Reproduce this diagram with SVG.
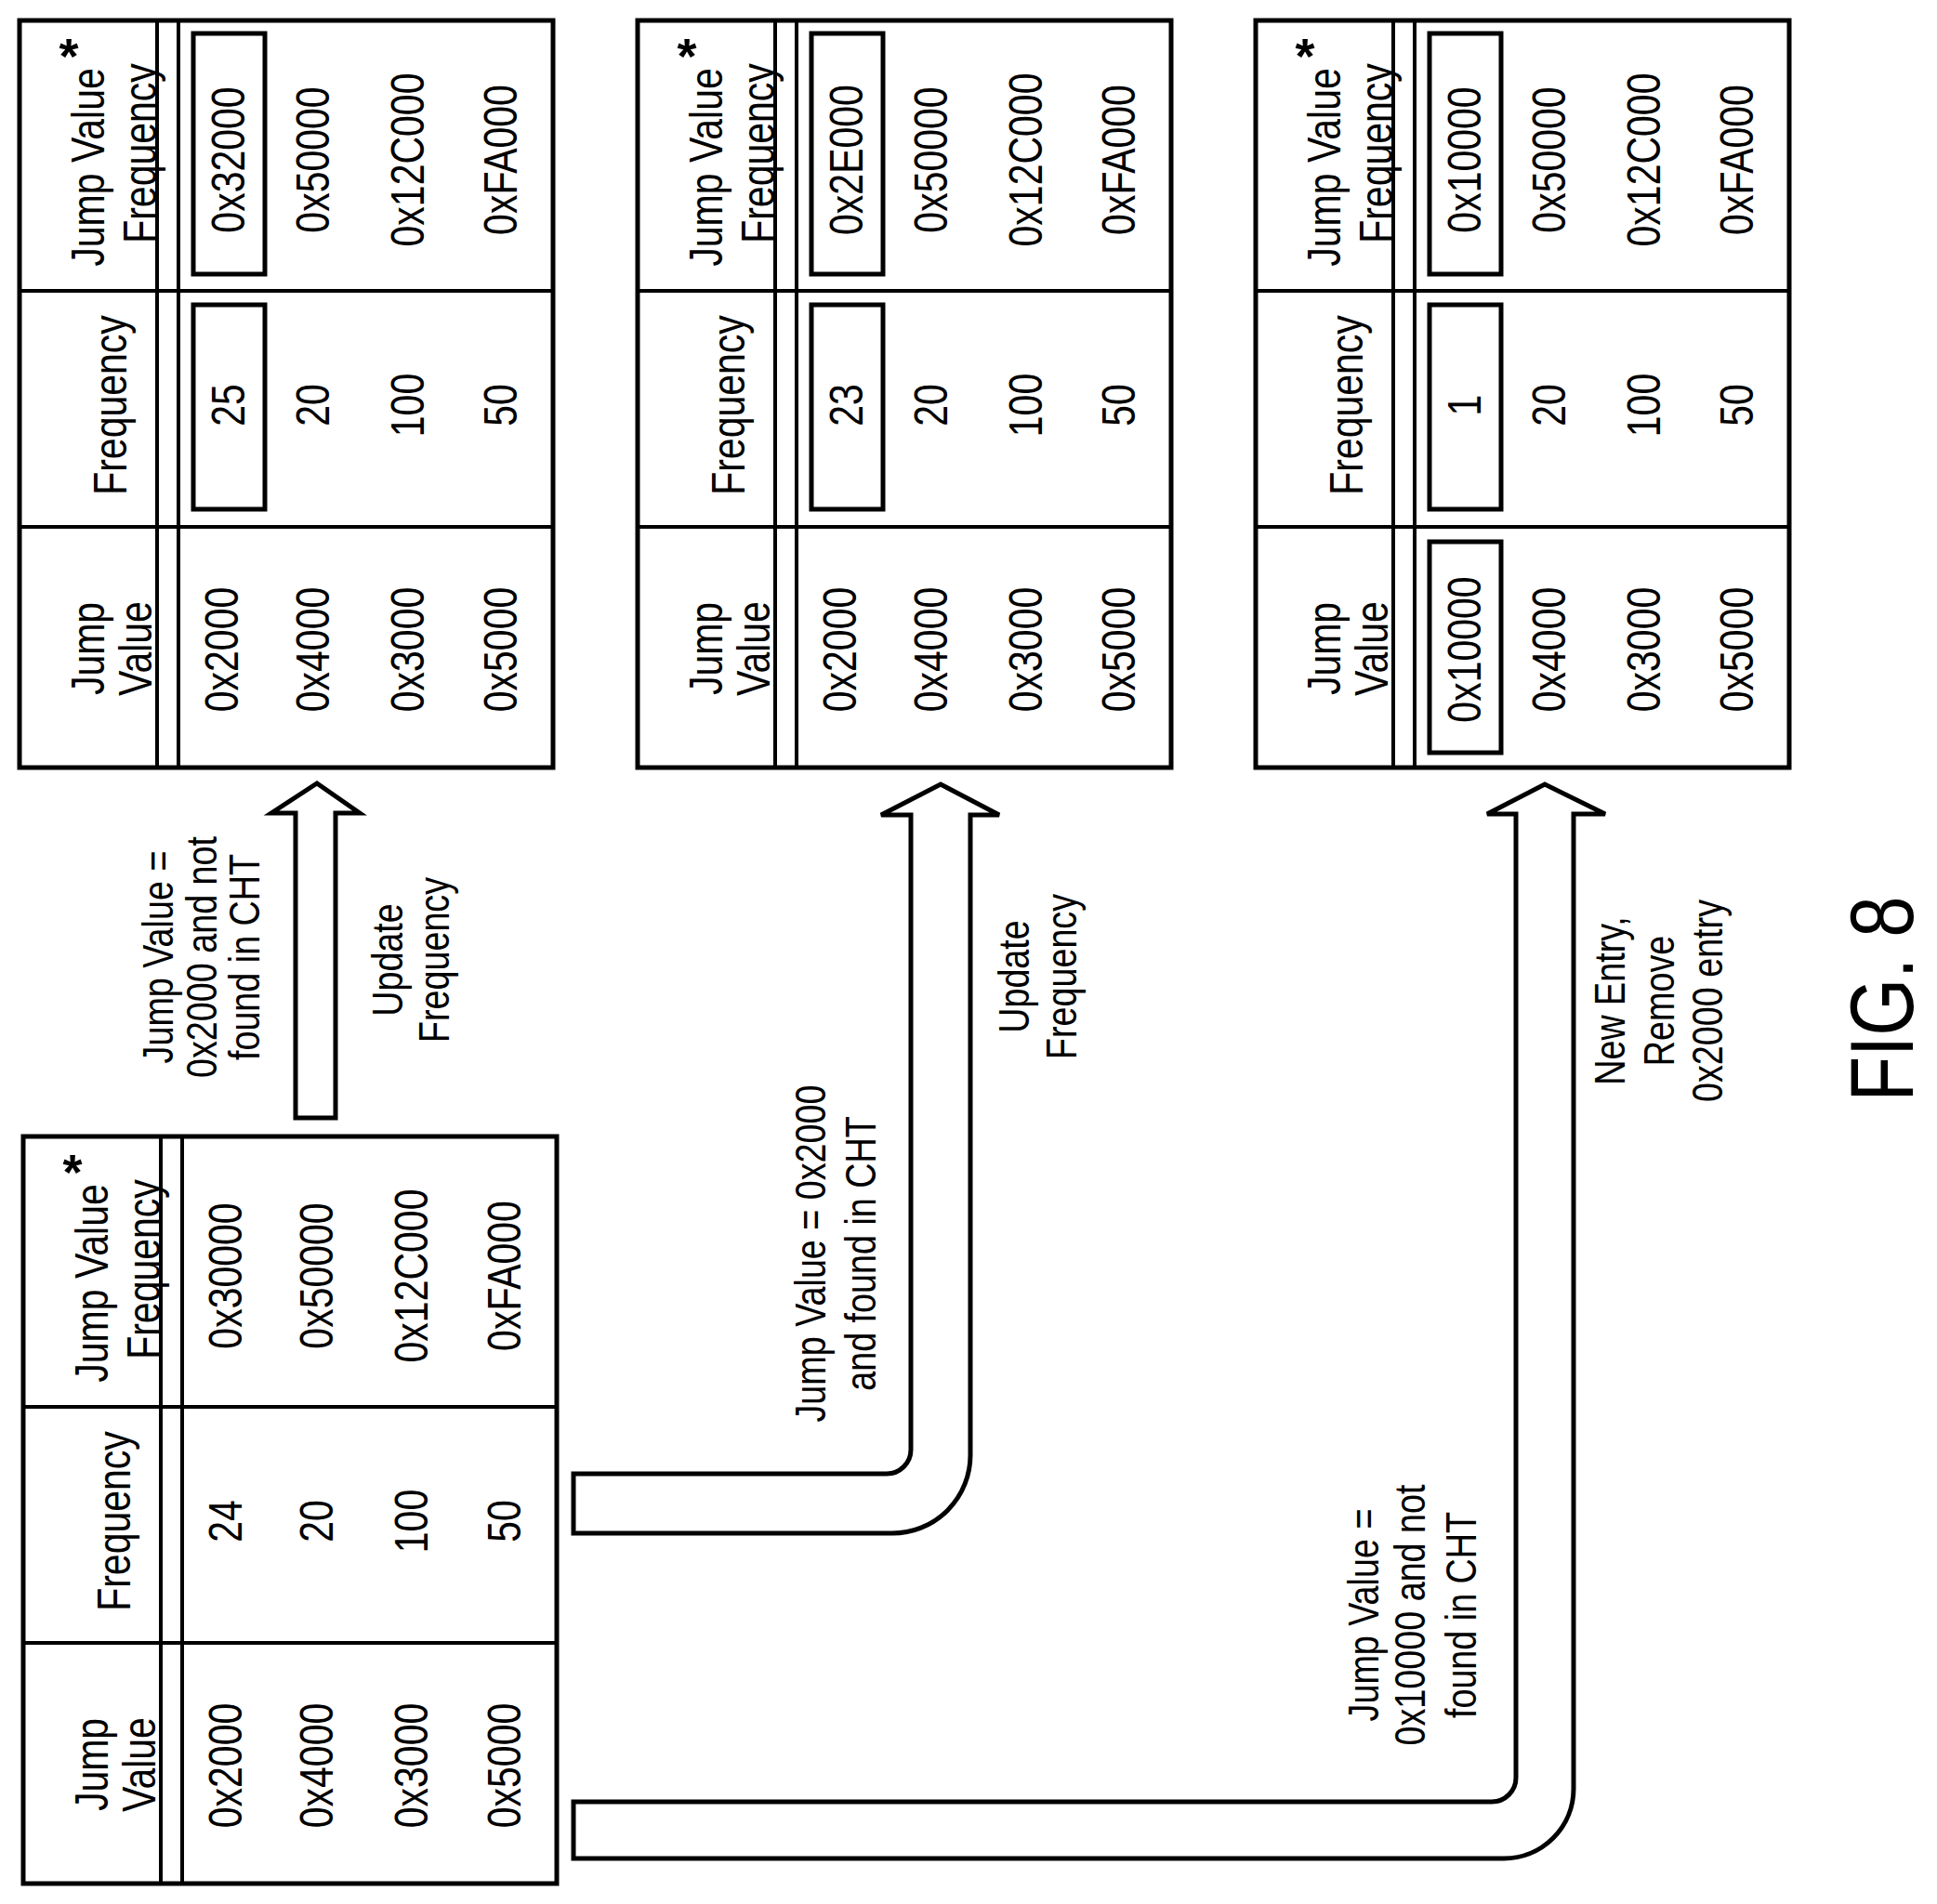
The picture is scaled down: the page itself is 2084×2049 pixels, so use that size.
<svg xmlns="http://www.w3.org/2000/svg" width="2084" height="2049" viewBox="0 0 2084 2049">
<defs>
<style>
.t{font-family:"Liberation Sans",Arial,sans-serif;font-size:50px;text-anchor:middle;dominant-baseline:central;fill:#000}
.l{font-family:"Liberation Sans",Arial,sans-serif;font-size:46px;text-anchor:middle;dominant-baseline:central;fill:#000}
.ast{font-family:"Liberation Sans",Arial,sans-serif;font-size:54px;font-weight:bold;text-anchor:middle;dominant-baseline:central}
.o{fill:none;stroke:#000;stroke-width:5}
.i{stroke:#000;stroke-width:4}
.bx{fill:none;stroke:#000;stroke-width:5}
.ar{fill:#fff;stroke:#000;stroke-width:5;stroke-linejoin:miter}
</style>
<g id="tbl">
<rect class="o" x="0" y="0" width="574" height="804"/>
<line class="i" x1="148" y1="0" x2="148" y2="804"/>
<line class="i" x1="171" y1="0" x2="171" y2="804"/>
<line class="i" x1="0" y1="291" x2="574" y2="291"/>
<line class="i" x1="0" y1="545" x2="574" y2="545"/>
<text class="t" transform="translate(74,676) rotate(-90) scale(0.82,1)">Jump</text>
<text class="t" transform="translate(125,676) rotate(-90) scale(0.82,1)">Value</text>
<text class="t" transform="translate(98,414) rotate(-90) scale(0.82,1)">Frequency</text>
<text class="t" transform="translate(74,158) rotate(-90) scale(0.82,1)">Jump Value</text>
<text class="t" transform="translate(130,143) rotate(-90) scale(0.82,1)">Frequency</text>
<text class="ast" x="53" y="38">*</text>
<text class="t" transform="translate(316,677) rotate(-90) scale(0.82,1)">0x4000</text>
<text class="t" transform="translate(418,677) rotate(-90) scale(0.82,1)">0x3000</text>
<text class="t" transform="translate(518,677) rotate(-90) scale(0.82,1)">0x5000</text>
<text class="t" transform="translate(316,414) rotate(-90) scale(0.82,1)">20</text>
<text class="t" transform="translate(418,414) rotate(-90) scale(0.82,1)">100</text>
<text class="t" transform="translate(518,414) rotate(-90) scale(0.82,1)">50</text>
<text class="t" transform="translate(316,150) rotate(-90) scale(0.82,1)">0x50000</text>
<text class="t" transform="translate(418,150) rotate(-90) scale(0.82,1)">0x12C000</text>
<text class="t" transform="translate(518,150) rotate(-90) scale(0.82,1)">0xFA000</text>
</g>
</defs>
<rect width="2084" height="2049" fill="#fff"/>
<g id="table0" transform="translate(25,1223)">
<use href="#tbl"/>
<text class="t" transform="translate(218,677) rotate(-90) scale(0.82,1)">0x2000</text>
<text class="t" transform="translate(218,414) rotate(-90) scale(0.82,1)">24</text>
<text class="t" transform="translate(218,150) rotate(-90) scale(0.82,1)">0x30000</text>
</g>
<g id="table1" transform="translate(21,22)">
<use href="#tbl"/>
<rect class="bx" x="187" y="14" width="77" height="259"/>
<rect class="bx" x="187" y="306" width="77" height="220"/>
<text class="t" transform="translate(218,677) rotate(-90) scale(0.82,1)">0x2000</text>
<text class="t" transform="translate(225,414) rotate(-90) scale(0.82,1)">25</text>
<text class="t" transform="translate(225,150) rotate(-90) scale(0.82,1)">0x32000</text>
</g>
<g id="table2" transform="translate(686,22)">
<use href="#tbl"/>
<rect class="bx" x="187" y="14" width="77" height="259"/>
<rect class="bx" x="187" y="306" width="77" height="220"/>
<text class="t" transform="translate(218,677) rotate(-90) scale(0.82,1)">0x2000</text>
<text class="t" transform="translate(225,414) rotate(-90) scale(0.82,1)">23</text>
<text class="t" transform="translate(225,150) rotate(-90) scale(0.82,1)">0x2E000</text>
</g>
<g id="table3" transform="translate(1351,22)">
<use href="#tbl"/>
<rect class="bx" x="187" y="14" width="77" height="259"/>
<rect class="bx" x="187" y="306" width="77" height="220"/>
<rect class="bx" x="187" y="561" width="77" height="227"/>
<text class="t" transform="translate(225,677) rotate(-90) scale(0.82,1)">0x10000</text>
<text class="t" transform="translate(225,414) rotate(-90) scale(0.82,1)">1</text>
<text class="t" transform="translate(225,150) rotate(-90) scale(0.82,1)">0x10000</text>
</g>
<g id="connectors">
<path class="ar" d="M318,1203 V875 H292 L341,843 L387,875 H361 V1203 Z"/>
<path class="ar" d="M617,1586 H954 A26 26 0 0 0 980 1560 V877 H948 L1012,844 L1075,877 H1044 V1566 A84 84 0 0 1 960 1650 H617 Z"/>
<path class="ar" d="M617,1939 H1605 A26 26 0 0 0 1631 1913 V876 H1600 L1662,844 L1727,876 H1693 V1925 A75 75 0 0 1 1618 2000 H617 Z"/>
</g>
<g id="labels">
<text class="l" transform="translate(170,1030) rotate(-90) scale(0.82,1)">Jump Value =</text>
<text class="l" transform="translate(217,1030) rotate(-90) scale(0.82,1)">0x2000 and not</text>
<text class="l" transform="translate(263,1030) rotate(-90) scale(0.82,1)">found in CHT</text>
<text class="l" transform="translate(417,1033) rotate(-90) scale(0.82,1)">Update</text>
<text class="l" transform="translate(467,1033) rotate(-90) scale(0.82,1)">Frequency</text>
<text class="l" transform="translate(872,1349) rotate(-90) scale(0.82,1)">Jump Value = 0x2000</text>
<text class="l" transform="translate(926,1349) rotate(-90) scale(0.82,1)">and found in CHT</text>
<text class="l" transform="translate(1091,1051) rotate(-90) scale(0.82,1)">Update</text>
<text class="l" transform="translate(1142,1051) rotate(-90) scale(0.82,1)">Frequency</text>
<text class="l" transform="translate(1467,1738) rotate(-90) scale(0.82,1)">Jump Value =</text>
<text class="l" transform="translate(1517,1738) rotate(-90) scale(0.82,1)">0x10000 and not</text>
<text class="l" transform="translate(1572,1738) rotate(-90) scale(0.82,1)">found in CHT</text>
<text class="l" transform="translate(1732,1077) rotate(-90) scale(0.82,1)">New Entry,</text>
<text class="l" transform="translate(1785,1077) rotate(-90) scale(0.82,1)">Remove</text>
<text class="l" transform="translate(1837,1077) rotate(-90) scale(0.82,1)">0x2000 entry</text>
<text class="t" style="font-size:97px" transform="translate(2025,1075) rotate(-90) scale(0.82,1)">FIG. 8</text>
</g>
</svg>
